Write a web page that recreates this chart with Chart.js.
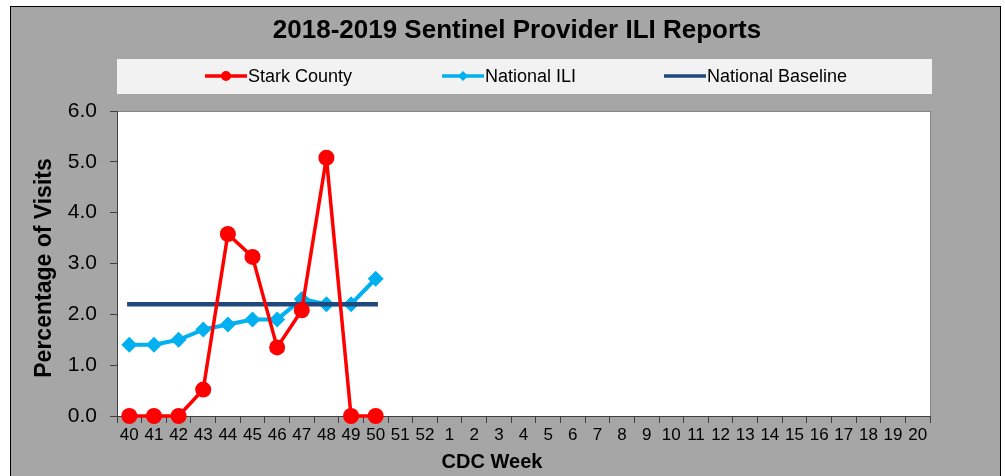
<!DOCTYPE html>
<html>
<head>
<meta charset="utf-8">
<title>2018-2019 Sentinel Provider ILI Reports</title>
<script src="https://cdn.jsdelivr.net/npm/chart.js@4/dist/chart.umd.min.js"></script>
<style>
  html, body { margin: 0; padding: 0; background: #fff; }
  #wrap { width: 1005px; height: 476px; }
</style>
</head>
<body>
<div id="wrap"><canvas id="iliChart" width="1005" height="476"></canvas></div>
<script>
// CDC weeks shown on the x axis
const weeks = ['40', '41', '42', '43', '44', '45', '46', '47', '48', '49', '50', '51', '52',
    '1', '2', '3', '4', '5', '6', '7', '8', '9', '10', '11', '12', '13', '14', '15', '16', '17', '18', '19', '20'];

// percentages (weeks 40-50 reported so far)
const starkCounty = [0, 0, 0, 0.52, 3.58, 3.13, 1.35, 2.08, 5.08, 0, 0];
const nationalIli = [1.4, 1.4, 1.5, 1.7, 1.8, 1.9, 1.9, 2.3, 2.2, 2.2, 2.7];
const nationalBaseline = [2.2, 2.2, 2.2, 2.2, 2.2, 2.2, 2.2, 2.2, 2.2, 2.2, 2.2];

const yTickValues = [0, 1, 2, 3, 4, 5, 6];
const yTickLabels = ['0.0', '1.0', '2.0', '3.0', '4.0', '5.0', '6.0'];

const FONT = "'Liberation Sans', Arial, sans-serif";

// gray frame, plot box, title, legend and axis titles (Excel style)
const excelFrame = {
    id: 'excelFrame',
    beforeDraw: function(chart) {
        var ctx = chart.ctx;
        var area = chart.chartArea;
        ctx.save();
        ctx.fillStyle = '#ffffff';
        ctx.fillRect(0, 0, chart.width, chart.height);

        ctx.fillStyle = '#a6a6a6';
        ctx.fillRect(10, 6, 991, chart.height);
        ctx.strokeStyle = '#000000';
        ctx.lineWidth = 1;
        ctx.strokeRect(10.5, 6.5, 990, chart.height + 10);

        // plot area
        ctx.fillStyle = '#ffffff';
        ctx.fillRect(area.left, area.top, area.right - area.left, area.bottom - area.top);
        ctx.strokeStyle = '#868686';
        ctx.strokeRect(area.left + 0.5, area.top + 0.5, area.right - area.left, area.bottom - area.top);

        // legend box
        ctx.fillStyle = '#f2f2f2';
        ctx.fillRect(117, 59, 815, 35);

        // title
        ctx.fillStyle = '#000000';
        ctx.textAlign = 'center';
        ctx.textBaseline = 'alphabetic';
        ctx.font = 'bold 26px ' + FONT;
        ctx.fillText('2018-2019 Sentinel Provider ILI Reports', 517, 38);

        // x axis title
        ctx.font = 'bold 20px ' + FONT;
        ctx.fillText('CDC Week', 492, 468);

        // y axis title
        ctx.save();
        ctx.translate(51, 268);
        ctx.rotate(-Math.PI / 2);
        ctx.font = 'bold 23px ' + FONT;
        ctx.fillText('Percentage of Visits', 0, 0);
        ctx.restore();

        // legend items
        var starts = [205, 442, 664];
        ctx.textAlign = 'left';
        ctx.font = '18px ' + FONT;
        chart.data.datasets.forEach(function(ds, i) {
            var x = starts[i], y = 76;
            ctx.strokeStyle = ds.borderColor;
            ctx.lineWidth = 3.5;
            ctx.beginPath();
            ctx.moveTo(x, y);
            ctx.lineTo(x + 42, y);
            ctx.stroke();
            ctx.fillStyle = ds.borderColor;
            if (ds.pointStyle === 'circle' && ds.pointRadius > 0) {
                ctx.beginPath();
                ctx.arc(x + 21, y, 5, 0, Math.PI * 2);
                ctx.fill();
            } else if (ds.pointStyle === 'rectRot' && ds.pointRadius > 0) {
                ctx.beginPath();
                ctx.moveTo(x + 21, y - 5);
                ctx.lineTo(x + 26, y);
                ctx.lineTo(x + 21, y + 5);
                ctx.lineTo(x + 16, y);
                ctx.closePath();
                ctx.fill();
            }
            ctx.fillStyle = '#000000';
            ctx.fillText(ds.label, x + 43, 82);
        });
        ctx.restore();
    }
};

var ctx = document.getElementById('iliChart').getContext('2d');
new Chart(ctx, {
    type: 'line',
    data: {
        labels: weeks,
        datasets: [
            {
                label: 'Stark County',
                data: starkCounty,
                borderColor: '#ff0000',
                backgroundColor: '#ff0000',
                borderWidth: 3.5,
                borderJoinStyle: 'round',
                pointStyle: 'circle',
                pointRadius: 8,
                pointBorderWidth: 0,
                tension: 0,
                clip: false,
                order: 0
            },
            {
                label: 'National ILI',
                data: nationalIli,
                borderColor: '#00b0f0',
                backgroundColor: '#00b0f0',
                borderWidth: 4,
                borderJoinStyle: 'round',
                pointStyle: 'rectRot',
                pointRadius: 8,
                pointBorderWidth: 0,
                tension: 0,
                clip: false,
                order: 2
            },
            {
                label: 'National Baseline',
                data: nationalBaseline,
                borderColor: '#1f497d',
                backgroundColor: '#1f497d',
                borderWidth: 4.5,
                borderCapStyle: 'square',
                pointStyle: 'circle',
                pointRadius: 0,
                tension: 0,
                clip: false,
                order: 1
            }
        ]
    },
    options: {
        responsive: false,
        animation: false,
        devicePixelRatio: 1,
        layout: { padding: { left: 0, top: 111, right: 75, bottom: 0 } },
        plugins: {
            legend: { display: false },
            title: { display: false },
            tooltip: { enabled: false }
        },
        scales: {
            x: {
                type: 'category',
                offset: true,
                afterFit: function(scale) { scale.height = 60; },
                grid: { offset: true, drawOnChartArea: false, tickLength: 7, color: '#404040' },
                border: { color: '#404040', width: 1 },
                ticks: {
                    autoSkip: false,
                    maxRotation: 0,
                    padding: 2,
                    color: '#000000',
                    font: { family: FONT, size: 17 }
                }
            },
            y: {
                min: 0,
                max: 6,
                afterFit: function(scale) { scale.width = 117; },
                afterBuildTicks: function(scale) {
                    scale.ticks = yTickValues.map(function(v) { return { value: v }; });
                },
                grid: { drawOnChartArea: false, tickLength: 7, color: '#404040' },
                border: { color: '#404040', width: 1 },
                ticks: {
                    padding: 13,
                    color: '#000000',
                    font: { family: FONT, size: 21 },
                    callback: function(value, index) { return yTickLabels[index]; }
                }
            }
        }
    },
    plugins: [excelFrame]
});
</script>
</body>
</html>
